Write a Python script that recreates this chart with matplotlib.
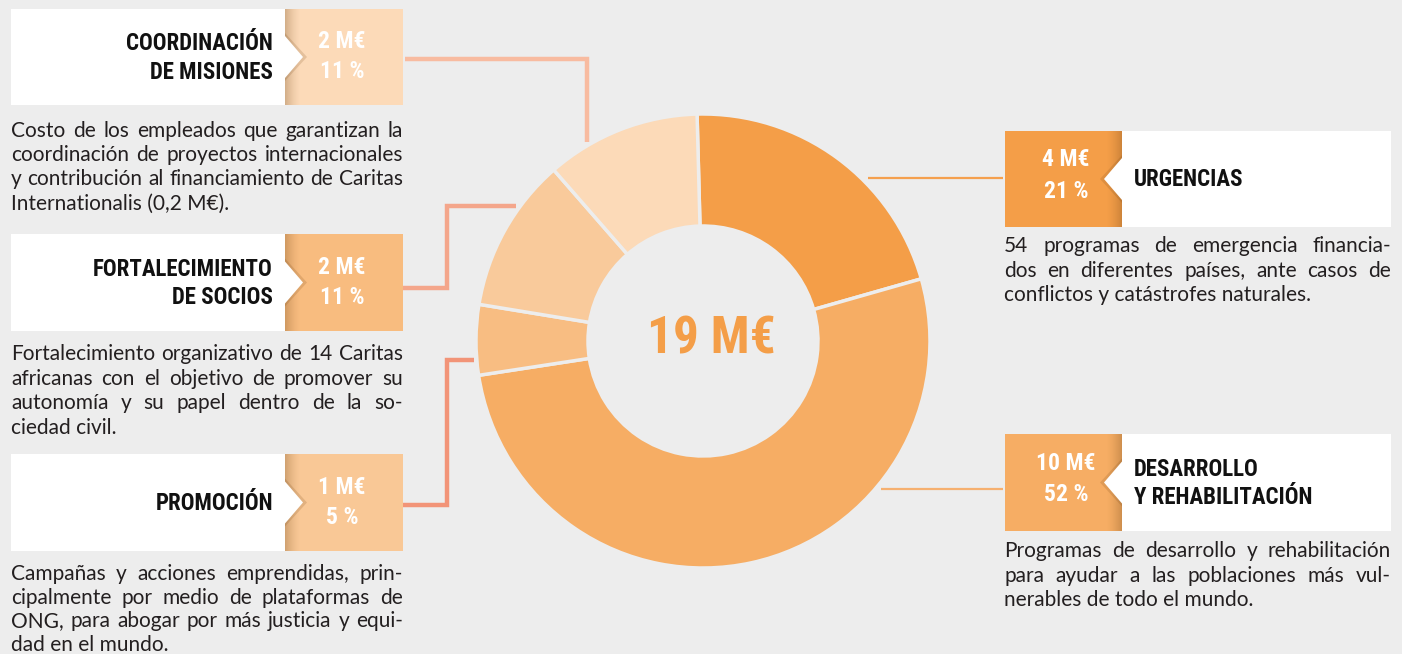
import numpy as np
import matplotlib.pyplot as plt
from matplotlib.patches import Rectangle, Polygon
from matplotlib import font_manager
from matplotlib.font_manager import FontProperties

W, H = 1402, 654
BG = "#EDEDED"

# data (wedge order: clockwise from the top)
categories = ["URGENCIAS", "DESARROLLO\nY REHABILITACIÓN", "PROMOCIÓN",
              "FORTALECIMIENTO\nDE SOCIOS", "COORDINACIÓN\nDE MISIONES"]
amounts = [4, 10, 1, 2, 2]
shares = [21, 52, 5, 11, 11]
total = 19
wedge_colors = ["#F49E48", "#F6AD64", "#F8BD82", "#F9CA9B", "#FCDAB8"]
box_colors = ["#F49E48", "#F6AD64", "#F9C896", "#F8BC7F", "#FCDAB8"]
line_colors = ["#F5A04E", "#F6B070", "#F29478", "#F4A68B", "#F8BBA0"]
descriptions = [
    "54 programas de emergencia financia-\ndos en diferentes países, ante casos de\nconflictos y catástrofes naturales.",
    "Programas de desarrollo y rehabilitación\npara ayudar a las poblaciones más vul-\nnerables de todo el mundo.",
    "Campañas y acciones emprendidas, prin-\ncipalmente por medio de plataformas de\nONG, para abogar por más justicia y equi-\ndad en el mundo.",
    "Fortalecimiento organizativo de 14 Caritas\nafricanas con el objetivo de promover su\nautonomía y su papel dentro de la so-\nciedad civil.",
    "Costo de los empleados que garantizan la\ncoordinación de proyectos internacionales\ny contribución al financiamiento de Caritas\nInternationalis (0,2 M€).",
]


def pick_condensed_bold():
    # a narrow bold face for the poster-style headings
    names = {f.name for f in font_manager.fontManager.ttflist}
    for fam in ["Noto Sans ExtraCondensed", "Roboto Condensed",
                "Noto Sans Condensed", "Open Sans Condensed",
                "Liberation Sans Narrow", "Noto Sans SemiCondensed"]:
        if fam in names:
            return FontProperties(family=fam, weight="bold")
    for f in font_manager.fontManager.ttflist:
        if "DejaVuSansCondensed-Bold." in f.fname:
            return FontProperties(fname=f.fname)
    return FontProperties(family="DejaVu Sans", weight="bold")


HEAD = pick_condensed_bold()
BODY = FontProperties(family="Lato")


def fy(y):
    return H - y


fig = plt.figure(figsize=(W / 100, H / 100), dpi=100, facecolor=BG)
ax = fig.add_axes([0, 0, 1, 1])
ax.set_facecolor(BG)
renderer = fig.canvas.get_renderer()


def text_w(s, fp, size):
    t = fig.text(0, 0, s, fontproperties=fp, fontsize=size)
    w = t.get_window_extent(renderer).width
    t.remove()
    return w


head_pt, val_pt, big_pt = 16.5, 17, 37
body_pt = min(20 * 392 / text_w("Costo de los empleados que garantizan la", BODY, 20), 15)


def justified(x0, y, width, line, last):
    words = line.split(" ")
    if last or len(words) < 2:
        ax.text(x0, fy(y), line, color="#231F20", fontproperties=BODY,
                fontsize=body_pt, ha="left", va="center", zorder=6)
        return
    ws = [text_w(w, BODY, body_pt) for w in words]
    gap = (width - sum(ws)) / (len(words) - 1)
    x = x0
    for w, wpx in zip(words, ws):
        ax.text(x, fy(y), w, color="#231F20", fontproperties=BODY,
                fontsize=body_pt, ha="left", va="center", zorder=6)
        x += wpx + gap


# donut
cx, cy = 703, 341
ax.pie(shares, colors=wedge_colors, startangle=91.5, counterclock=False,
       radius=227, center=(cx, fy(cy)),
       wedgeprops=dict(width=112, edgecolor=BG, linewidth=2.5))
ax.text(cx + 8, fy(cy - 1), f"{total} M€", color="#F49E48", fontsize=big_pt,
        fontproperties=HEAD, ha="center", va="center")

# box layout: (side, top, bottom)
layout = {0: ("R", 131, 227), 1: ("R", 434, 531), 2: ("L", 454, 551),
          3: ("L", 234, 331), 4: ("L", 9, 105)}
desc_y = {0: 246, 1: 551, 2: 574, 3: 354, 4: 131}
desc_step = {0: 24.6, 1: 24.6, 2: 23.6, 3: 24.6, 4: 24.2}

# connectors
conn = {
    0: [(868, 178), (1003, 178)],
    1: [(881, 489), (1003, 489)],
    2: [(403, 505), (447, 505), (447, 360), (474, 360)],
    3: [(402, 288), (447, 288), (447, 206), (516, 206)],
    4: [(405, 59), (587, 59), (587, 142)],
}
for i, pts in conn.items():
    xs = [p[0] for p in pts]
    ys = [fy(p[1]) for p in pts]
    lw = 1.6 if layout[i][0] == "R" else 3.2
    ax.plot(xs, ys, color=line_colors[i], lw=lw, solid_joinstyle="miter",
            solid_capstyle="butt", zorder=1)

shade = np.zeros((1, 40, 4))
shade[..., 0], shade[..., 1], shade[..., 2] = 0.45, 0.28, 0.1

for i, (side, top, bot) in layout.items():
    mid = (top + bot) / 2
    h = bot - top
    if side == "L":
        wx0, wx1, cx0, cx1 = 11, 285, 285, 403
    else:
        cx0, cx1, wx0, wx1 = 1005, 1122, 1122, 1391
    ax.add_patch(Rectangle((wx0, fy(bot)), wx1 - wx0, h, facecolor="white",
                           edgecolor="none", zorder=2))
    ax.add_patch(Rectangle((cx0, fy(bot)), cx1 - cx0, h, facecolor=box_colors[i],
                           edgecolor="none", zorder=2))
    # soft shadow where the white box meets the coloured one
    a = np.linspace(0.45, 0, 40) ** 1.5
    g = shade.copy()
    if side == "L":
        g[..., 3] = a
        ax.imshow(g, extent=(cx0, cx0 + 16, fy(bot), fy(top)), zorder=3,
                  aspect="auto", interpolation="bilinear")
        tri = [(cx0, fy(mid - 21)), (cx0 + 18, fy(mid)), (cx0, fy(mid + 21))]
        sh = [(cx0, fy(mid - 24)), (cx0 + 22, fy(mid)), (cx0, fy(mid + 24))]
        vx, tx, tha = 342, 273, "right"
        voff = (-15, 15)
    else:
        g[..., 3] = a[::-1]
        ax.imshow(g, extent=(cx1 - 16, cx1, fy(bot), fy(top)), zorder=3,
                  aspect="auto", interpolation="bilinear")
        tri = [(cx1, fy(mid - 21)), (cx1 - 18, fy(mid)), (cx1, fy(mid + 21))]
        sh = [(cx1, fy(mid - 24)), (cx1 - 22, fy(mid)), (cx1, fy(mid + 24))]
        vx, tx, tha = 1066, 1134, "left"
        voff = (-19, 12)
    ax.add_patch(Polygon(sh, closed=True, facecolor="#7a4a1a", alpha=0.18,
                         edgecolor="none", zorder=4))
    ax.add_patch(Polygon(tri, closed=True, facecolor="white", edgecolor="none",
                         zorder=5))

    ax.text(vx, fy(mid + voff[0]), f"{amounts[i]} M€", color="white",
            fontproperties=HEAD, fontsize=val_pt, ha="center",
            va="center", zorder=6)
    ax.text(vx, fy(mid + voff[1]), f"{shares[i]} %", color="white",
            fontproperties=HEAD, fontsize=val_pt, ha="center",
            va="center", zorder=6)

    lines = categories[i].split("\n")
    n = len(lines)
    for k, ln in enumerate(lines):
        yy = mid + (k - (n - 1) / 2) * 29 + 1
        ax.text(tx, fy(yy), ln, color="#111111", fontproperties=HEAD,
                fontsize=head_pt, ha=tha, va="center", zorder=6)

    dx, dw = (11, 392) if side == "L" else (1004, 387)
    dl = descriptions[i].split("\n")
    for k, ln in enumerate(dl):
        justified(dx, desc_y[i] + k * desc_step[i], dw, ln, k == len(dl) - 1)

ax.set_xlim(0, W)
ax.set_ylim(0, H)
ax.axis("off")

fig.savefig("out.png", dpi=100, facecolor=BG)
